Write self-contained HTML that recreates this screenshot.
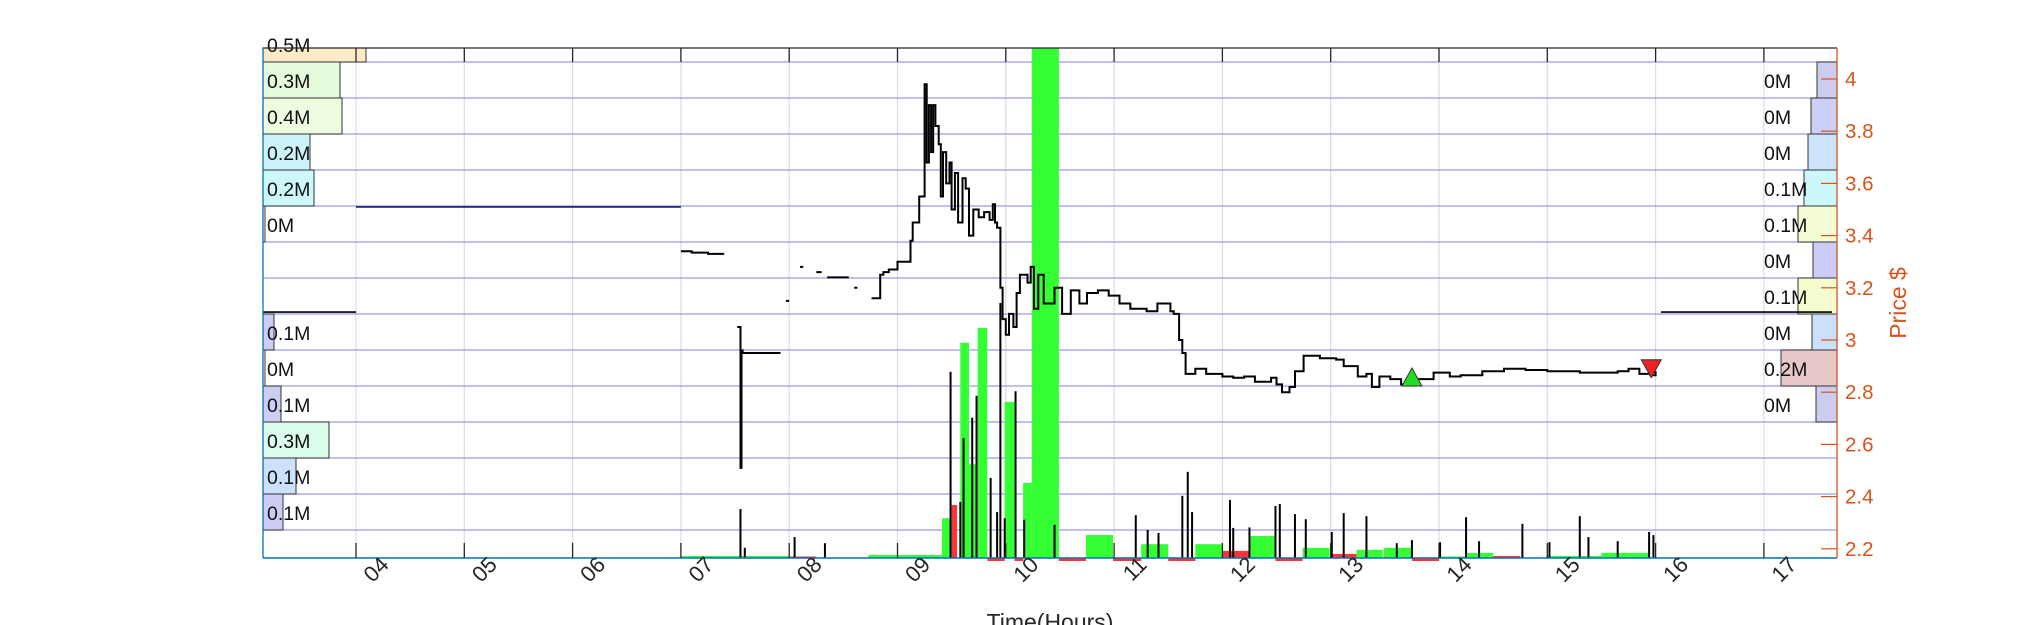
<!DOCTYPE html>
<html><head><meta charset="utf-8"><style>
html,body{margin:0;padding:0;background:#fff;}
svg{display:block;font-family:"Liberation Sans",Arial,sans-serif;}
</style></head><body>
<svg id="chart" width="2031" height="625" viewBox="0 0 2031 625" xmlns="http://www.w3.org/2000/svg">
<g id="grid"></g>
<g id="profile"></g>
<g id="vol"></g>
<g id="price"></g>
<g id="axes"></g>
<text x="1050" y="630" font-size="23" fill="#262626" text-anchor="middle">Time(Hours)</text>
<text transform="translate(1906,303) rotate(-90)" font-size="23" fill="#d95319" text-anchor="middle">Price $</text>
</svg>
<script>
// ---- data ----
const hourTicks = ["04","05","06","07","08","09","10","11","12","13","14","15","16","17"];
const priceTicks = [2.2,2.4,2.6,2.8,3.0,3.2,3.4,3.6,3.8,4.0];
const barStart = [7.0,8.0,8.73,9.41,9.50,9.58,9.66,9.74,9.99,10.16,10.24,10.74,11.25,11.75,12.0,12.26,12.74,13.01,13.24,13.49,14.0,14.26,14.5,14.99,15.5];
const barEnd   = [8.0,8.25,9.41,9.50,9.55,9.66,9.74,9.83,10.08,10.24,10.49,10.99,11.5,12.0,12.25,12.48,12.99,13.24,13.48,13.75,14.26,14.5,14.75,15.5,15.93];
const barVol   = [0.4,0.3,0.6,7.8,10.4,42.2,18.4,45.1,30.6,14.7,110,4.5,2.7,2.7,1.4,4.3,2,0.8,1.6,2,0.3,1,0.4,0.4,1];
const barSide  = ["b","s","b","b","s","b","b","b","b","b","b","b","b","b","s","b","b","s","b","b","b","b","s","b","b"];
const stripStart = [9.83,10.08,10.49,10.99,11.5,12.49,13.75];
const stripEnd   = [9.99,10.16,10.74,11.25,11.75,12.74,14.0];
const tickT = [7.55,7.59,8.05,8.33,9.49,9.58,9.61,9.69,9.73,9.86,9.92,9.95,9.99,10.09,10.17,10.45,11.2,11.31,11.41,11.63,11.68,11.72,12.07,12.1,12.25,12.49,12.53,12.67,12.77,13.01,13.12,13.33,13.61,13.75,14.01,14.25,14.37,14.77,15.02,15.3,15.38,15.65,15.94,15.98];
const tickV = [9.6,2,4.1,2.9,36.5,11,23.5,27.5,31.8,15.7,9,50,7.8,32.7,7.5,6.5,8.4,5.5,4.9,12.2,16.9,9,11.4,5.9,6,10.2,10.6,8.6,7.6,5.1,8.8,8.2,2.9,3.5,3.1,8,3.3,6.7,3.1,8.2,4.1,3.3,5.1,4.5];
const priceT = [7.0,7.1,7.25,7.4,null,7.52,7.55,7.56,7.57,7.92,null,7.97,8.0,null,8.1,8.13,null,8.25,8.3,null,8.35,8.55,null,8.6,8.63,null,
8.76,8.84,8.87,8.92,9.0,9.12,9.14,9.2,9.25,9.27,9.29,9.31,9.33,9.35,9.38,9.4,9.42,9.45,9.48,9.5,9.53,9.56,9.6,9.63,9.66,9.7,9.75,9.8,9.85,9.88,9.9,9.92,9.95,9.97,10.0,10.03,10.07,10.1,10.13,10.2,10.23,10.26,10.3,10.35,10.45,10.49,10.52,10.6,10.68,10.75,10.85,10.95,11.05,11.15,11.3,11.4,11.52,11.55,11.6,11.63,11.66,11.75,11.85,12.0,12.1,12.2,12.3,12.45,12.5,12.55,12.62,12.67,12.75,12.9,13.05,13.12,13.25,13.33,13.38,13.45,13.55,13.65,13.8,13.95,14.1,14.2,14.4,14.6,14.8,15.0,15.3,15.5,15.65,15.75,15.85,15.95,16.0];
const priceP = [3.34,3.335,3.33,3.33,null,3.05,2.51,2.96,2.95,2.95,null,3.15,3.15,null,3.28,3.28,null,3.26,3.26,null,3.24,3.24,null,3.2,3.2,null,
3.16,3.25,3.26,3.27,3.3,3.38,3.45,3.55,3.98,3.68,3.9,3.72,3.9,3.82,3.75,3.55,3.72,3.6,3.68,3.5,3.64,3.45,3.62,3.58,3.4,3.5,3.47,3.49,3.46,3.52,3.45,3.43,3.2,3.08,3.02,3.1,3.05,3.18,3.25,3.22,3.28,3.12,3.25,3.14,3.2,3.2,3.1,3.19,3.14,3.18,3.19,3.17,3.14,3.12,3.11,3.14,3.11,3.1,3.0,2.95,2.87,2.89,2.87,2.86,2.855,2.86,2.84,2.855,2.83,2.8,2.82,2.88,2.94,2.93,2.925,2.9,2.86,2.87,2.82,2.86,2.85,2.83,2.85,2.875,2.86,2.865,2.88,2.89,2.885,2.88,2.875,2.875,2.88,2.89,2.87,2.865,2.88,2.88];
const prevClose = 3.107;
const openRef = 3.51;
const buyMarkT = 13.75, buyMarkP = 2.858;
const sellMarkT = 15.96, sellMarkP = 2.89;
const leftVol   = [0.515,0.385,0.395,0.235,0.255,0.01,0,0,0.055,0.01,0.09,0.33,0.165,0.10];
const leftLabel = ["0.5M","0.3M","0.4M","0.2M","0.2M","0M","","","0.1M","0M","0.1M","0.3M","0.1M","0.1M"];
const leftColor = ["#fdebc8","#e6fbdc","#eefde0","#ccf2fc","#ccf8fc","#ffffff","","","#ccccf4","#ffffff","#ccccf4","#dcfcec","#cce0fc","#ccccf4"];
const rightVol   = [0.10,0.13,0.145,0.165,0.195,0.12,0.195,0.125,0.28,0.105];
const rightLabel = ["0M","0M","0M","0.1M","0.1M","0M","0.1M","0M","0.2M","0M"];
const rightColor = ["#ccccf0","#ccd0f8","#cce4fc","#ccf8fc","#f4fcd4","#ccccf8","#f4fcd0","#cce0fc","#e6c8c8","#ccccf0"];

// ---- scales ----
const L=263, R=1837, T=48, B=558;
const X = h => 356 + (h-4)*108.3;
const Y = p => 79 + (4-p)*261;
const V = v => Math.min(v*5.1, B-T);
const binTop = k => 62 + (k-1)*36;
const PW = 200;
const NS="http://www.w3.org/2000/svg";
function mk(tag, attrs, parent){const e=document.createElementNS(NS,tag);for(const k in attrs)e.setAttribute(k,attrs[k]);parent.appendChild(e);return e;}
const grid=document.getElementById('grid'), prof=document.getElementById('profile'), vol=document.getElementById('vol'), pr=document.getElementById('price'), ax=document.getElementById('axes');

hourTicks.forEach((t,i)=>{const x=X(4+i);
 const g=mk('line',{x1:x,x2:x,y1:T,y2:B,stroke:'#dcdcdc','stroke-width':1.2},grid);
 
 
});
for(let k=0;k<14;k++){const y=62+k*36;
 const g=mk('line',{x1:L,x2:R,y1:y,y2:y,stroke:'#9a9ae8','stroke-width':1.3},grid);
 
 
}
leftVol.forEach((v,k)=>{
 if(leftLabel[k]==="") return;
 let y0=binTop(k), y1=y0+36; if(y0<T) y0=T;
 const r=mk('rect',{x:L,y:y0,width:Math.max(v*PW,2),height:y1-y0,fill:leftColor[k],stroke:'#333','stroke-width':1},prof);
 
 
 const t=mk('text',{x:L+4,y:y1-10,'font-size':19.5,fill:'#111'},prof); t.textContent=leftLabel[k];
 
 
});
rightVol.forEach((v,k)=>{
 const y0=binTop(k+1), w=v*PW;
 const r=mk('rect',{x:R-w,y:y0,width:w,height:36,fill:rightColor[k],stroke:'#333','stroke-width':1},prof);
 
 
 const t=mk('text',{x:1764,y:y0+26,'font-size':19.5,fill:'#111'},prof); t.textContent=rightLabel[k];
 
 
});
barStart.forEach((s,i)=>{const h=V(barVol[i]);
 const r=mk('rect',{x:X(s),y:B-h,width:X(barEnd[i])-X(s),height:h,fill:barSide[i]==='b'?'#33ff33':'#ff3333'},vol);
 
 
});
stripStart.forEach((s,i)=>{
 const r=mk('rect',{x:X(s),y:B,width:X(stripEnd[i])-X(s),height:3,fill:'#ff3333'},vol);
 
 
});
tickT.forEach((t,i)=>{const h=V(tickV[i]);
 const r=mk('rect',{x:X(t)-1,y:B-h,width:2,height:h,fill:'#000'},vol);
 
 
});
let l=mk('line',{x1:L,x2:X(4),y1:Y(prevClose),y2:Y(prevClose),stroke:'#000','stroke-width':1.6},pr);


l=mk('line',{x1:X(16.05),x2:R-5,y1:Y(prevClose),y2:Y(prevClose),stroke:'#000','stroke-width':1.6},pr);


l=mk('line',{x1:X(4),x2:X(7),y1:Y(openRef),y2:Y(openRef),stroke:'#1a1a70','stroke-width':1.6},pr);


let d='', prev=null;
for(let i=0;i<priceT.length;i++){
 if(priceT[i]===null){prev=null;continue;}
 const x=X(priceT[i]), y=Y(priceP[i]);
 if(prev===null) d+=`M${x.toFixed(1)},${y.toFixed(1)}`;
 else d+=`H${x.toFixed(1)}V${y.toFixed(1)}`;
 prev=y;
}
const p=mk('path',{d:d,fill:'none',stroke:'#000','stroke-width':2},pr);


let bx=X(buyMarkT), by=Y(buyMarkP);
const m1=mk('polygon',{points:`${bx-10},${by+9} ${bx+10},${by+9} ${bx},${by-9}`,fill:'#22dd22',stroke:'#333','stroke-width':1},pr);


let sx=X(sellMarkT), sy=Y(sellMarkP);
const m2=mk('polygon',{points:`${sx-10},${sy-9} ${sx+10},${sy-9} ${sx},${sy+9}`,fill:'#ee2222',stroke:'#333','stroke-width':1},pr);



l=mk('line',{x1:L,x2:R,y1:T,y2:T,stroke:'#262626','stroke-width':1.3},ax);


l=mk('line',{x1:L,x2:L,y1:T,y2:B,stroke:'#0072bd','stroke-width':1.3},ax);


l=mk('line',{x1:L,x2:R,y1:B,y2:B,stroke:'#0072bd','stroke-width':1.5},ax);


l=mk('line',{x1:R,x2:R,y1:T,y2:B,stroke:'#d95319','stroke-width':1.3},ax);


hourTicks.forEach((t,i)=>{const x=X(4+i);
 const a=mk('line',{x1:x,x2:x,y1:T,y2:T+14,stroke:'#262626','stroke-width':1.3},ax);
 
 
 const b=mk('line',{x1:x,x2:x,y1:B,y2:B-15,stroke:'#262626','stroke-width':1.3},ax);
 
 
 const tx=mk('text',{transform:`translate(${x+34},${566}) rotate(-45)`,'font-size':22,fill:'#262626','text-anchor':'end'},ax);
 tx.textContent=t;
 
 
});
priceTicks.forEach(pv=>{const y=Y(pv);
 const a=mk('line',{x1:R-16,x2:R,y1:y,y2:y,stroke:'#d95319','stroke-width':1.2},ax);
 
 
 const tx=mk('text',{x:R+8,y:y+7,'font-size':20.5,fill:'#d95319'},ax);
 tx.textContent=String(pv).replace(/\.0$/,'');
 
 
});
</script>
</body></html>
